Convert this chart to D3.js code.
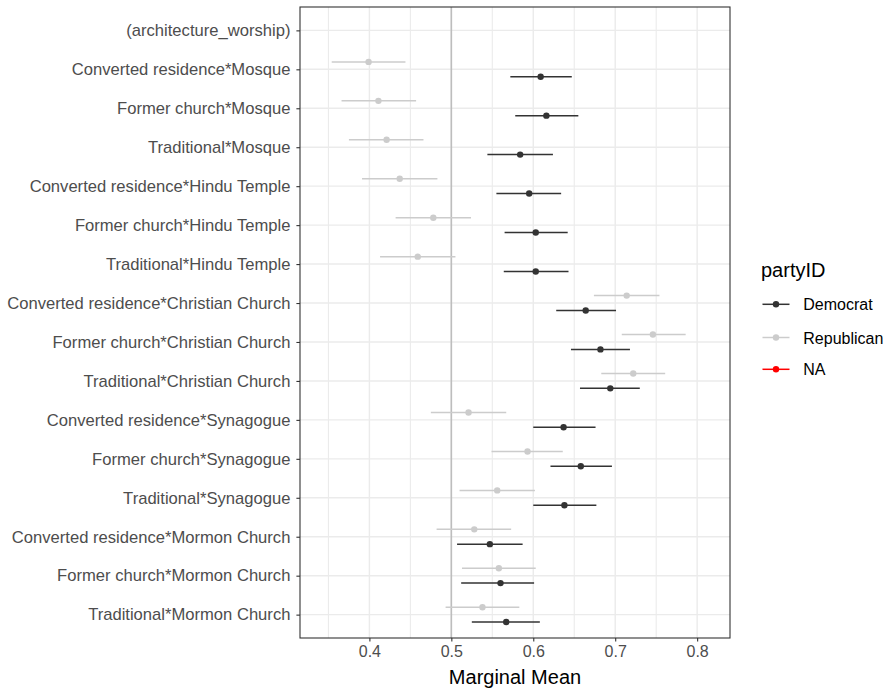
<!DOCTYPE html>
<html>
<head>
<meta charset="utf-8">
<script src="https://cdn.jsdelivr.net/npm/d3@7"></script>
<style>
  body { margin: 0; background: #fff; }
  text { font-family: "Liberation Sans", Arial, Helvetica, sans-serif; }
</style>
</head>
<body>
<svg id="chart" width="889" height="689"></svg>
<script>
// rows, top to bottom
var categories = [
  "(architecture_worship)",
  "Converted residence*Mosque",
  "Former church*Mosque",
  "Traditional*Mosque",
  "Converted residence*Hindu Temple",
  "Former church*Hindu Temple",
  "Traditional*Hindu Temple",
  "Converted residence*Christian Church",
  "Former church*Christian Church",
  "Traditional*Christian Church",
  "Converted residence*Synagogue",
  "Former church*Synagogue",
  "Traditional*Synagogue",
  "Converted residence*Mormon Church",
  "Former church*Mormon Church",
  "Traditional*Mormon Church"
];

// estimates (null = no estimate for the header row)
var demMean  = [null, 0.609, 0.616, 0.584, 0.595, 0.603, 0.603, 0.664, 0.682, 0.694, 0.637, 0.658, 0.638, 0.547, 0.560, 0.567];
var demLower = [null, 0.572, 0.578, 0.544, 0.555, 0.565, 0.564, 0.628, 0.646, 0.657, 0.600, 0.621, 0.600, 0.507, 0.512, 0.525];
var demUpper = [null, 0.647, 0.655, 0.624, 0.634, 0.642, 0.643, 0.701, 0.718, 0.730, 0.676, 0.696, 0.677, 0.587, 0.601, 0.608];

var repMean  = [null, 0.399, 0.411, 0.421, 0.437, 0.478, 0.459, 0.714, 0.746, 0.722, 0.521, 0.593, 0.556, 0.528, 0.558, 0.538];
var repLower = [null, 0.354, 0.366, 0.375, 0.391, 0.432, 0.413, 0.674, 0.708, 0.683, 0.475, 0.549, 0.510, 0.482, 0.513, 0.493];
var repUpper = [null, 0.444, 0.457, 0.466, 0.483, 0.524, 0.505, 0.754, 0.786, 0.761, 0.567, 0.636, 0.602, 0.573, 0.603, 0.583];

var xMajor = [0.4, 0.5, 0.6, 0.7, 0.8];
var xMinor = [0.35, 0.45, 0.55, 0.65, 0.75];
var refLine = 0.5;

var legendKeys = ["Democrat", "Republican", "NA"];
var legendColors = ["#333333", "#cccccc", "#ff0000"];

var margin = { left: 300, right: 159, top: 7, bottom: 51 };
var W = 889, H = 689;
var width = W - margin.left - margin.right;
var height = H - margin.top - margin.bottom;

var svg = d3.select("#chart");
var g = svg.append("g").attr("transform", "translate(" + margin.left + "," + margin.top + ")");

var x = d3.scaleLinear().domain([0.3153, 0.8401]).range([0, width]);
var y = d3.scalePoint().domain(categories).range([0, height]).padding(0.6);
var dodge = y.step() * 0.19;

// grid
g.selectAll(".minor").data(xMinor).enter().append("line")
  .attr("x1", d => x(d)).attr("x2", d => x(d)).attr("y1", 0).attr("y2", height)
  .attr("stroke", "#ebebeb").attr("stroke-width", 1.1);
g.selectAll(".majorx").data(xMajor).enter().append("line")
  .attr("x1", d => x(d)).attr("x2", d => x(d)).attr("y1", 0).attr("y2", height)
  .attr("stroke", "#ebebeb").attr("stroke-width", 1.4);
g.selectAll(".majory").data(categories).enter().append("line")
  .attr("x1", 0).attr("x2", width).attr("y1", d => y(d)).attr("y2", d => y(d))
  .attr("stroke", "#ebebeb").attr("stroke-width", 1.4);

// reference line
g.append("line")
  .attr("x1", x(refLine)).attr("x2", x(refLine)).attr("y1", 0).attr("y2", height)
  .attr("stroke", "#bdbdbd").attr("stroke-width", 1.6);

// point ranges
function drawSeries(mean, lower, upper, color, off) {
  var rows = categories.map(function (c, i) {
    return { cat: c, m: mean[i], lo: lower[i], hi: upper[i] };
  }).filter(d => d.m != null);
  g.selectAll(null).data(rows).enter().append("line")
    .attr("x1", d => x(d.lo)).attr("x2", d => x(d.hi))
    .attr("y1", d => y(d.cat) + off).attr("y2", d => y(d.cat) + off)
    .attr("stroke", color).attr("stroke-width", 1.5);
  g.selectAll(null).data(rows).enter().append("circle")
    .attr("cx", d => x(d.m)).attr("cy", d => y(d.cat) + off)
    .attr("r", 3.2).attr("fill", color);
}
drawSeries(repMean, repLower, repUpper, legendColors[1], -dodge);
drawSeries(demMean, demLower, demUpper, legendColors[0], dodge);

// border
g.append("rect").attr("width", width).attr("height", height)
  .attr("fill", "none").attr("stroke", "#333333").attr("stroke-width", 1.1);

// axes
var yAxis = g.append("g").call(d3.axisLeft(y).tickSize(3.6).tickPadding(6));
var xAxis = g.append("g").attr("transform", "translate(0," + height + ")")
  .call(d3.axisBottom(x).tickValues(xMajor).tickFormat(d3.format(".1f")).tickSize(3.6).tickPadding(4));
[xAxis, yAxis].forEach(function (a) {
  a.select(".domain").remove();
  a.selectAll(".tick line").attr("stroke", "#333333").attr("stroke-width", 1.1);
  a.selectAll(".tick text").attr("fill", "#4d4d4d").style("font-size", "16px")
    .style("font-family", "'Liberation Sans', Arial, sans-serif");
});
yAxis.selectAll(".tick text").style("font-size", "16.6px");

svg.append("text")
  .attr("x", margin.left + width / 2).attr("y", 683.5)
  .attr("text-anchor", "middle").attr("fill", "#000")
  .style("font-size", "20px").text("Marginal Mean");

// legend
var leg = svg.append("g").attr("transform", "translate(761,0)");
leg.append("text").attr("x", 0).attr("y", 276.5).style("font-size", "20px").attr("fill", "#000").text("partyID");
var ky = [304.3, 337.5, 369.3];
legendKeys.forEach(function (k, i) {
  leg.append("line").attr("x1", 1.5).attr("x2", 28.5).attr("y1", ky[i]).attr("y2", ky[i])
    .attr("stroke", legendColors[i]).attr("stroke-width", 1.5);
  leg.append("circle").attr("cx", 15).attr("cy", ky[i]).attr("r", 3.2).attr("fill", legendColors[i]);
  leg.append("text").attr("x", 42.3).attr("y", ky[i] + 6).style("font-size", "16px").attr("fill", "#000").text(k);
});
</script>
</body>
</html>
